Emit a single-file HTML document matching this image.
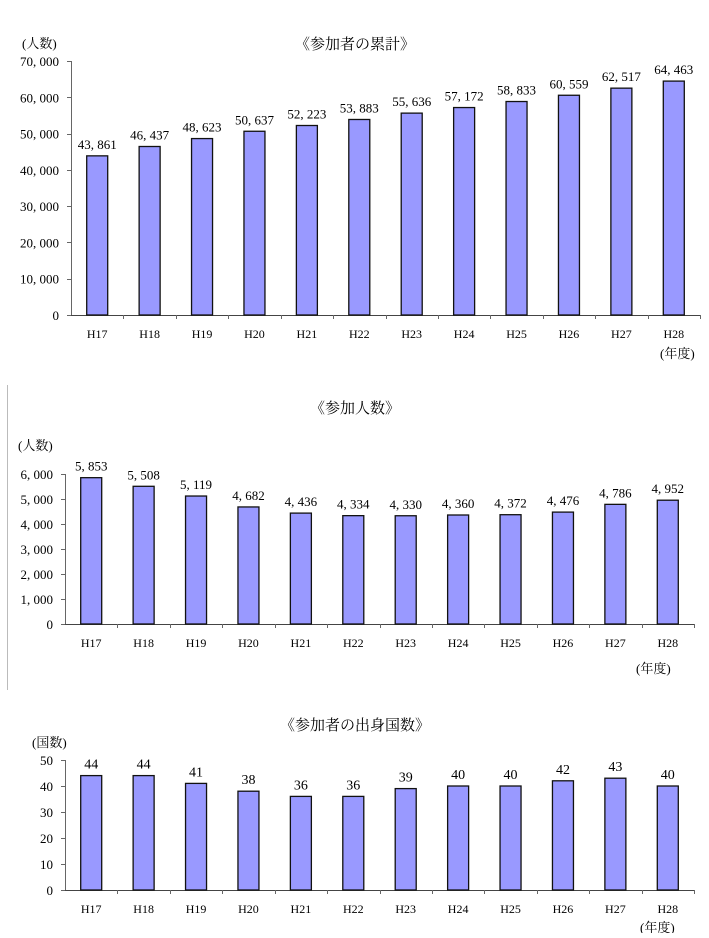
<!DOCTYPE html>
<html><head><meta charset="utf-8"><style>
body{margin:0;background:#fff;width:709px;height:933px;overflow:hidden}
svg text{font-family:"Liberation Serif","Noto Serif CJK JP",serif;fill:#000}
</style></head><body>
<svg id="s" width="709" height="933">
<line x1="7.5" y1="385" x2="7.5" y2="690" stroke="#bbb"/>
</svg>
<script>
const categories=["H17","H18","H19","H20","H21","H22","H23","H24","H25","H26","H27","H28"];
const cumulativeValues=[43861,46437,48623,50637,52223,53883,55636,57172,58833,60559,62517,64463];
const participantValues=[5853,5508,5119,4682,4436,4334,4330,4360,4372,4476,4786,4952];
const countryValues=[44,44,41,38,36,36,39,40,40,42,43,40];
const cumulativeTicks=[0,10000,20000,30000,40000,50000,60000,70000];
const participantTicks=[0,1000,2000,3000,4000,5000,6000];
const countryTicks=[0,10,20,30,40,50];
const NS="http://www.w3.org/2000/svg";
const svg=document.getElementById('s');
function el(tag,attrs,parent){const e=document.createElementNS(NS,tag);for(const k in attrs)e.setAttribute(k,attrs[k]);(parent||svg).appendChild(e);return e;}
function fmt(v){return v.toLocaleString('en-US').replace(/,/g,', ');}
function chart(o){
  const g=el('g',{});
  
  
  const maxT=o.ticks[o.ticks.length-1];
  const y=v=>o.y0-(v/maxT)*(o.y0-o.y1);
  const slot=(o.x1-o.x0)/o.cats.length;
  const cx=i=>o.x0+slot*(i+0.5);
  let t=el('text',{x:355,y:o.titleY,'text-anchor':'middle','font-size':15},g);t.textContent=o.title;
  
  t=el('text',{x:o.unitX,y:o.unitY,'font-size':13},g);t.textContent=o.unit;
  
  t=el('text',{x:o.yearX,y:o.yearY,'font-size':13},g);t.textContent='(年度)';
  
  const ax=el('line',{x1:o.x0+.5,y1:y(maxT),x2:o.x0+.5,y2:o.y0,stroke:'#666'},g);
  
  const xa=el('line',{x1:o.x0,y1:o.y0+.5,x2:o.x1,y2:o.y0+.5,stroke:'#444'},g);
  
  o.ticks.forEach(v=>{
    el('line',{x1:o.x0-4,y1:Math.round(y(v))+.5,x2:o.x0,y2:Math.round(y(v))+.5,stroke:'#666'},g);
    const tt=el('text',{x:o.x0-12,y:y(v)+5,'text-anchor':'end','font-size':13},g);tt.textContent=o.tickFmt(v);
    
  });
  for(let i=1;i<=o.cats.length;i++){const xx=Math.round(o.x0+slot*i)+.5;el('line',{x1:xx,y1:o.y0,x2:xx,y2:o.y0+4,stroke:'#666'},g);}
  o.cats.forEach((c,i)=>{
    const v=o.vals[i];
    const b=el('rect',{x:cx(i)-10.5,y:y(v),width:21,height:o.y0-y(v),fill:'#9999ff',stroke:'#111','stroke-width':1.3},g);
    
    const l=el('text',{x:cx(i),y:y(v)-7,'text-anchor':'middle','font-size':o.labelSize},g);l.textContent=o.valFmt(v);
    
    const xl=el('text',{x:cx(i),y:o.y0+23,'text-anchor':'middle','font-size':12},g);xl.textContent=c;
    
  });
}
chart({name:'cumulative-chart',title:'《参加者の累計》',titleY:49,unit:'(人数)',unitX:22,unitY:48,yearX:660,yearY:358,
  x0:71,x1:700,y0:315,y1:61,cats:categories,vals:cumulativeValues,ticks:cumulativeTicks,tickFmt:fmt,valFmt:fmt,labelSize:13});
chart({name:'participants-chart',title:'《参加人数》',titleY:413,unit:'(人数)',unitX:18,unitY:450,yearX:636,yearY:673,
  x0:65,x1:694,y0:624,y1:474,cats:categories,vals:participantValues,ticks:participantTicks,tickFmt:fmt,valFmt:fmt,labelSize:13});
chart({name:'countries-chart',title:'《参加者の出身国数》',titleY:730,unit:'(国数)',unitX:32,unitY:747,yearX:640,yearY:932,
  x0:65,x1:694,y0:890,y1:760,cats:categories,vals:countryValues,ticks:countryTicks,tickFmt:v=>String(v),valFmt:v=>String(v),labelSize:14});
</script>
</body></html>
